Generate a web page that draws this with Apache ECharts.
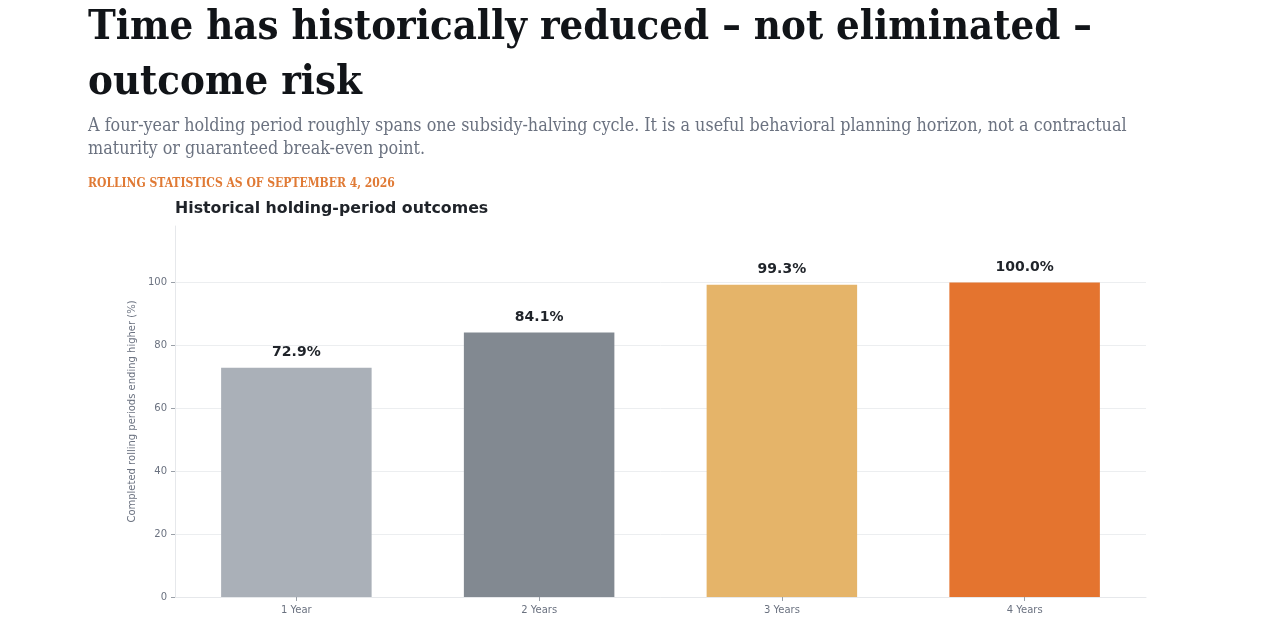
<!DOCTYPE html>
<html>
<head>
    <meta charset="UTF-8">
    <title>Holding-period outcomes</title>
    <script src="https://cdn.jsdelivr.net/npm/echarts@6/dist/echarts.min.js"></script>
    <style>
        html, body {margin: 0; padding: 0; background: #fff;}
        #chart {width: 1280px; height: 619px;}
    </style>
</head>
<body>

<div id="chart"></div>

<script>
    // data
    var categories = ['1 Year', '2 Years', '3 Years', '4 Years'];
    var pctHigher = [72.9, 84.1, 99.3, 100.0];
    var barColors = ['#aab0b8', '#828991', '#e5b469', '#e4742f'];
    var yTicks = [0, 20, 40, 60, 80, 100];

    var headline = ['Time has historically reduced \u2013 not eliminated \u2013', 'outcome risk'];
    var deck = ['A four-year holding period roughly spans one subsidy-halving cycle. It is a useful behavioral planning horizon, not a contractual',
                'maturity or guaranteed break-even point.'];
    var kicker = 'ROLLING STATISTICS AS OF SEPTEMBER 4, 2026';

    var serif = '"DejaVu Serif Condensed", "DejaVu Serif", serif';
    var sans = '"DejaVu Sans", sans-serif';

    var myChart = echarts.init(document.getElementById('chart'), null, {renderer: 'canvas'});

    var option = {
        backgroundColor: '#fff',
        animation: false,
        graphic: [
            {type: 'text', x: 88, y: 28, style: {text: headline[0], font: 'bold 41.5px ' + serif, fill: '#111418', verticalAlign: 'middle'}},
            {type: 'text', x: 88, y: 83, style: {text: headline[1], font: 'bold 41.5px ' + serif, fill: '#111418', verticalAlign: 'middle'}},
            {type: 'text', x: 88, y: 126, style: {text: deck[0], font: '17.8px ' + serif, fill: '#6b7280', verticalAlign: 'middle'}},
            {type: 'text', x: 88, y: 149, style: {text: deck[1], font: '17.8px ' + serif, fill: '#6b7280', verticalAlign: 'middle'}},
            {type: 'text', x: 88, y: 183.5, style: {text: kicker, font: 'bold 12px ' + serif, fill: '#e07a35', verticalAlign: 'middle'}},
            {type: 'text', x: 175, y: 208.5, style: {text: 'Historical holding-period outcomes', font: 'bold 15.8px ' + sans, fill: '#1f2329', verticalAlign: 'middle'}}
        ],
        grid: {left: 175, right: 134, top: 226, bottom: 22, containLabel: false},
        xAxis: {
            type: 'category',
            data: categories,
            axisLine: {show: true, lineStyle: {color: '#e6e8eb'}},
            axisTick: {show: true, alignWithLabel: true, length: 4, lineStyle: {color: '#9aa0a8'}},
            axisLabel: {color: '#6b7280', fontSize: 10, fontFamily: sans, margin: 8}
        },
        yAxis: {
            type: 'value',
            min: 0,
            max: 118,
            interval: 20,
            name: 'Completed rolling periods ending higher (%)',
            nameLocation: 'middle',
            nameGap: 33,
            nameTextStyle: {color: '#6b7280', fontSize: 10, fontFamily: sans},
            axisLine: {show: true, lineStyle: {color: '#e6e8eb'}},
            axisTick: {show: true, length: 4, lineStyle: {color: '#9aa0a8'}},
            axisLabel: {color: '#6b7280', fontSize: 10, fontFamily: sans, margin: 8, showMaxLabel: false},
            splitLine: {show: true, lineStyle: {color: ['#eceef0', '#eceef0', '#eceef0', '#eceef0', '#eceef0', '#eceef0', 'rgba(0,0,0,0)']}}
        },
        series: [{
            type: 'bar',
            barWidth: '62%',
            data: pctHigher.map(function (v, i) {
                return {value: v, itemStyle: {color: barColors[i]}};
            }),
            label: {
                show: true,
                position: 'top',
                distance: 8,
                formatter: function (p) { return p.value.toFixed(1) + '%'; },
                color: '#1f2329',
                fontSize: 14,
                fontWeight: 'bold',
                fontFamily: sans
            }
        }]
    };
    myChart.setOption(option);
</script>

</body>
</html>
